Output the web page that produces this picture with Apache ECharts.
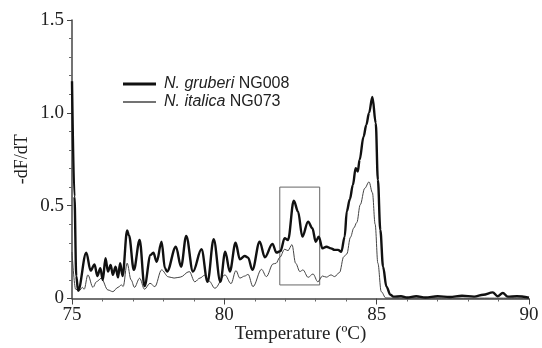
<!DOCTYPE html>
<html>
<head>
<meta charset="utf-8">
<script src="https://cdn.jsdelivr.net/npm/echarts@6/dist/echarts.min.js"></script>
<style>
  html, body { margin: 0; padding: 0; background: #fff; }
  #chart { width: 542px; height: 348px; }
</style>
</head>
<body>
<div id="chart"></div>
<script>
// N. gruberi NG008 (thick curve)
const gruberiT = [75.00, 75.08, 75.14, 75.20, 75.47, 75.61, 75.74, 75.83, 75.93, 76.01,
  76.10, 76.18, 76.27, 76.34, 76.43, 76.51, 76.58, 76.66, 76.81, 76.87,
  77.03, 77.22, 77.38, 77.58, 77.67, 77.78, 77.94, 78.05, 78.12, 78.41,
  78.58, 78.75, 78.97, 79.25, 79.45, 79.65, 79.87, 80.03, 80.18, 80.37,
  80.51, 80.67, 80.78, 80.92, 81.16, 81.33, 81.58, 81.71, 81.84, 81.98,
  82.09, 82.28, 82.42, 82.56, 82.75, 82.89, 83.00, 83.10, 83.22, 83.35,
  83.50, 83.62, 83.73, 83.84, 83.95, 84.02, 84.12, 84.22, 84.31, 84.38,
  84.44, 84.57, 84.66, 84.75, 84.86, 84.97, 85.04, 85.12, 85.21, 85.32,
  85.45, 85.55, 85.80, 86.00, 86.30, 86.60, 87.00, 87.40, 87.80, 88.20,
  88.50, 88.81, 88.97, 89.14, 89.30, 89.60, 90.00]
const gruberiV = [1.17, 0.55, 0.12, 0.042, 0.247, 0.150, 0.184, 0.121, 0.163, 0.100,
  0.217, 0.145, 0.181, 0.127, 0.171, 0.114, 0.190, 0.121, 0.366, 0.340,
  0.154, 0.315, 0.067, 0.235, 0.247, 0.198, 0.306, 0.163, 0.145, 0.279,
  0.171, 0.337, 0.145, 0.265, 0.090, 0.319, 0.090, 0.252, 0.145, 0.300,
  0.211, 0.229, 0.220, 0.154, 0.306, 0.222, 0.294, 0.247, 0.255, 0.325,
  0.315, 0.527, 0.468, 0.333, 0.414, 0.378, 0.306, 0.333, 0.270, 0.279,
  0.270, 0.262, 0.262, 0.252, 0.333, 0.470, 0.535, 0.612, 0.702, 0.684,
  0.747, 0.872, 0.935, 1.000, 1.085, 0.944, 0.639, 0.369, 0.171, 0.064,
  0.020, 0.010, 0.012, 0.005, 0.012, 0.005, 0.012, 0.008, 0.015, 0.010,
  0.020, 0.033, 0.012, 0.030, 0.010, 0.012, 0.005]

// N. italica NG073 (thin curve)
const italicaT = [75.00, 75.12, 75.24, 75.34, 75.40, 75.52, 75.69, 75.80, 75.96, 76.18,
  76.34, 76.51, 76.62, 76.68, 76.81, 76.94, 77.05, 77.22, 77.38, 77.56,
  77.72, 77.94, 78.16, 78.35, 78.55, 78.85, 79.03, 79.20, 79.35, 79.50,
  79.69, 80.02, 80.22, 80.38, 80.51, 80.67, 80.78, 80.94, 81.22, 81.38,
  81.60, 81.70, 81.82, 81.98, 82.09, 82.22, 82.34, 82.48, 82.58, 82.75,
  82.91, 83.07, 83.22, 83.35, 83.50, 83.62, 83.78, 83.92, 84.02, 84.14,
  84.25, 84.35, 84.46, 84.61, 84.75, 84.86, 84.95, 85.04, 85.15, 85.30,
  85.60, 90.00]
const italicaV = [0.25, 0.05, 0.042, 0.060, 0.050, 0.127, 0.060, 0.090, 0.109, 0.046,
  0.037, 0.060, 0.073, 0.065, 0.190, 0.100, 0.060, 0.109, 0.050, 0.082,
  0.064, 0.154, 0.117, 0.110, 0.115, 0.145, 0.090, 0.110, 0.125, 0.094,
  0.055, 0.127, 0.080, 0.150, 0.110, 0.121, 0.130, 0.064, 0.157, 0.118,
  0.186, 0.190, 0.222, 0.265, 0.258, 0.290, 0.190, 0.145, 0.154, 0.114,
  0.132, 0.090, 0.121, 0.115, 0.127, 0.118, 0.140, 0.225, 0.240, 0.330,
  0.380, 0.410, 0.505, 0.594, 0.628, 0.570, 0.400, 0.190, 0.037, 0.003,
  0.002, 0.002]

// boxed region
const boxT = [81.82, 83.13]
const boxV = [0.073, 0.60]

const xTicks = [75, 80, 85, 90]
const yTicks = [0, 0.5, 1.0, 1.5]

const seriesNames = ['N. gruberi NG008', 'N. italica NG073']

const zip = (xs, ys) => xs.map((x, i) => [x, ys[i]])

const myChart = echarts.init(document.getElementById('chart'))

const serif = '"Liberation Serif", "DejaVu Serif", serif'
const sans = '"Liberation Sans", Arial, sans-serif'

function legendFor(name, top, lineHeight) {
  return {
    orient: 'vertical',
    left: 123,
    top: top,
    padding: 0,
    icon: 'rect',
    itemWidth: 33,
    itemHeight: lineHeight,
    data: [name],
    formatter: function (n) {
      const parts = n.split(' ')
      return '{i|' + parts[0] + ' ' + parts[1] + '} ' + parts[2]
    },
    textStyle: {
      fontFamily: sans,
      fontSize: 16,
      color: '#222',
      padding: [0, 0, 0, 3],
      rich: {
        i: { fontStyle: 'italic', fontFamily: sans, fontSize: 16, color: '#222' },
      },
    },
  }
}

const option = {
  animation: false,
  backgroundColor: '#fff',
  grid: {
    left: 72,
    right: 13,
    top: 20,
    bottom: 49.5,
    containLabel: false,
    outerBoundsMode: 'none',
  },
  legend: [
    legendFor(seriesNames[0], 76, 3),
    legendFor(seriesNames[1], 94, 1.5),
  ],
  xAxis: {
    type: 'value',
    min: xTicks[0],
    max: xTicks[xTicks.length - 1],
    interval: 5,
    name: 'Temperature (ºC)',
    nameLocation: 'middle',
    nameGap: 26,
    nameMoveOverlap: false,
    nameTextStyle: { fontFamily: serif, fontSize: 19, color: '#222' },
    axisLine: { lineStyle: { color: '#444', width: 1.5 } },
    axisTick: { length: 6, lineStyle: { color: '#444' } },
    minorTick: { show: true, splitNumber: 5, length: 3, lineStyle: { color: '#666' } },
    splitLine: { show: false },
    axisLabel: { fontFamily: serif, fontSize: 19, color: '#222', margin: 7 },
  },
  yAxis: {
    type: 'value',
    min: yTicks[0],
    max: yTicks[yTicks.length - 1],
    interval: 0.5,
    name: '-dF/dT',
    nameLocation: 'middle',
    nameGap: 41,
    nameMoveOverlap: false,
    nameTextStyle: { fontFamily: serif, fontSize: 18, color: '#222' },
    axisLine: { show: true, lineStyle: { color: '#444', width: 1.5 } },
    axisTick: { show: true, length: 5, lineStyle: { color: '#444' } },
    minorTick: { show: true, splitNumber: 5, length: 3, lineStyle: { color: '#666' } },
    splitLine: { show: false },
    axisLabel: {
      fontFamily: serif,
      fontSize: 19,
      color: '#222',
      margin: 8,
      formatter: function (v) {
        return v === 0 ? '0' : v.toFixed(1)
      },
    },
  },
  series: [
    {
      name: seriesNames[0],
      type: 'line',
      data: zip(gruberiT, gruberiV),
      smooth: 0.35,
      smoothMonotone: 'x',
      symbol: 'none',
      lineStyle: { color: '#111', width: 2.4 },
      itemStyle: { color: '#111' },
      z: 3,
      markArea: {
        silent: true,
        itemStyle: { color: 'rgba(0,0,0,0)', borderColor: '#666', borderWidth: 1 },
        data: [[{ coord: [boxT[0], boxV[1]] }, { coord: [boxT[1], boxV[0]] }]],
      },
    },
    {
      name: seriesNames[1],
      type: 'line',
      data: zip(italicaT, italicaV),
      smooth: 0.35,
      smoothMonotone: 'x',
      symbol: 'none',
      lineStyle: { color: '#444', width: 1 },
      itemStyle: { color: '#444' },
      z: 2,
    },
  ],
}
myChart.setOption(option)
</script>
</body>
</html>
